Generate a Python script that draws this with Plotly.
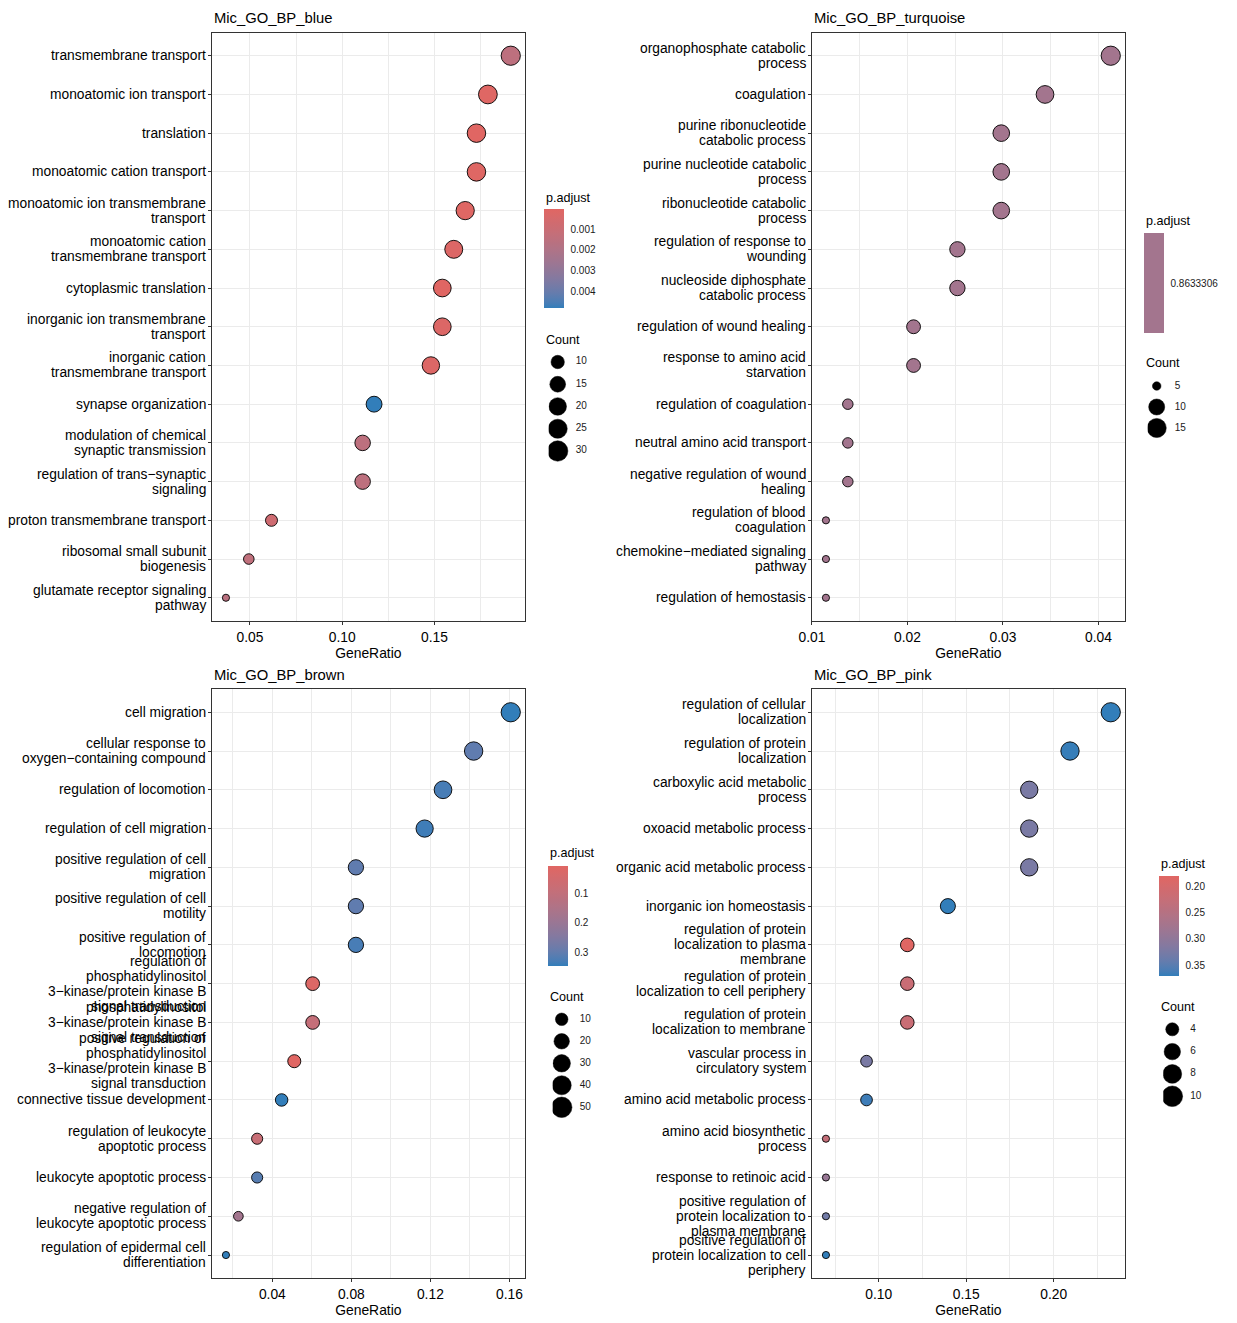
import numpy as np
import plotly.graph_objects as go

W, H = 1237, 1323
FONT = "Liberation Sans"
LOW, HIGH = "#e06663", "#327eba"   # p.adjust low (red) -> high (blue)

# ---------------- Mic_GO_BP_blue ----------------
blue_terms = [
    "transmembrane transport",
    "monoatomic ion transport",
    "translation",
    "monoatomic cation transport",
    "monoatomic ion transmembrane<br>transport",
    "monoatomic cation<br>transmembrane transport",
    "cytoplasmic translation",
    "inorganic ion transmembrane<br>transport",
    "inorganic cation<br>transmembrane transport",
    "synapse organization",
    "modulation of chemical<br>synaptic transmission",
    "regulation of trans\u2212synaptic<br>signaling",
    "proton transmembrane transport",
    "ribosomal small subunit<br>biogenesis",
    "glutamate receptor signaling<br>pathway",
]
blue_ratio = [0.1914, 0.1790, 0.1728, 0.1728, 0.1667, 0.1605, 0.1543, 0.1543,
              0.1481, 0.1173, 0.1111, 0.1111, 0.0617, 0.0494, 0.0370]
blue_count = [31, 29, 28, 28, 27, 26, 25, 25, 24, 19, 18, 18, 10, 8, 6]
blue_padj = [0.0015, 0.0001, 0.00005, 0.0001, 0.0001, 0.0002, 0.00003, 0.0002,
             0.0002, 0.0048, 0.0015, 0.0015, 0.0008, 0.0014, 0.0016]
blue_pticks = [0.001, 0.002, 0.003, 0.004]
blue_ptext = ["0.001", "0.002", "0.003", "0.004"]
blue_breaks = [10, 15, 20, 25, 30]

# ---------------- Mic_GO_BP_turquoise ----------------
turq_terms = [
    "organophosphate catabolic<br>process",
    "coagulation",
    "purine ribonucleotide<br>catabolic process",
    "purine nucleotide catabolic<br>process",
    "ribonucleotide catabolic<br>process",
    "regulation of response to<br>wounding",
    "nucleoside diphosphate<br>catabolic process",
    "regulation of wound healing",
    "response to amino acid<br>starvation",
    "regulation of coagulation",
    "neutral amino acid transport",
    "negative regulation of wound<br>healing",
    "regulation of blood<br>coagulation",
    "chemokine\u2212mediated signaling<br>pathway",
    "regulation of hemostasis",
]
turq_ratio = [0.04128, 0.03440, 0.02982, 0.02982, 0.02982, 0.02523, 0.02523, 0.02064,
              0.02064, 0.01376, 0.01376, 0.01376, 0.01147, 0.01147, 0.01147]
turq_count = [18, 15, 13, 13, 13, 11, 11, 9, 9, 6, 6, 6, 5, 5, 5]
turq_padj = [0.8633306] * 15
turq_pticks = [0.8633306]
turq_ptext = ["0.8633306"]
turq_breaks = [5, 10, 15]

# ---------------- Mic_GO_BP_brown ----------------
brown_terms = [
    "cell migration",
    "cellular response to<br>oxygen\u2212containing compound",
    "regulation of locomotion",
    "regulation of cell migration",
    "positive regulation of cell<br>migration",
    "positive regulation of cell<br>motility",
    "positive regulation of<br>locomotion",
    "regulation of<br>phosphatidylinositol<br>3\u2212kinase/protein kinase B<br>signal transduction",
    "phosphatidylinositol<br>3\u2212kinase/protein kinase B<br>signal transduction",
    "positive regulation of<br>phosphatidylinositol<br>3\u2212kinase/protein kinase B<br>signal transduction",
    "connective tissue development",
    "regulation of leukocyte<br>apoptotic process",
    "leukocyte apoptotic process",
    "negative regulation of<br>leukocyte apoptotic process",
    "regulation of epidermal cell<br>differentiation",
]
brown_ratio = [0.1607, 0.1419, 0.1264, 0.1171, 0.0823, 0.0823, 0.0823, 0.0604,
               0.0604, 0.0511, 0.0447, 0.0323, 0.0323, 0.0228, 0.0165]
brown_count = [51, 45, 40, 37, 26, 26, 26, 19, 19, 16, 14, 10, 10, 7, 5]
brown_padj = [0.344, 0.300, 0.327, 0.334, 0.300, 0.300, 0.327, 0.020, 0.090,
              0.007, 0.344, 0.080, 0.310, 0.175, 0.344]
brown_pticks = [0.1, 0.2, 0.3]
brown_ptext = ["0.1", "0.2", "0.3"]
brown_breaks = [10, 20, 30, 40, 50]

# ---------------- Mic_GO_BP_pink ----------------
pink_terms = [
    "regulation of cellular<br>localization",
    "regulation of protein<br>localization",
    "carboxylic acid metabolic<br>process",
    "oxoacid metabolic process",
    "organic acid metabolic process",
    "inorganic ion homeostasis",
    "regulation of protein<br>localization to plasma<br>membrane",
    "regulation of protein<br>localization to cell periphery",
    "regulation of protein<br>localization to membrane",
    "vascular process in<br>circulatory system",
    "amino acid metabolic process",
    "amino acid biosynthetic<br>process",
    "response to retinoic acid",
    "positive regulation of<br>protein localization to<br>plasma membrane",
    "positive regulation of<br>protein localization to cell<br>periphery",
]
pink_ratio = [0.2326, 0.2093, 0.1860, 0.1860, 0.1860, 0.1395, 0.1163, 0.1163,
              0.1163, 0.0930, 0.0930, 0.0698, 0.0698, 0.0698, 0.0698]
pink_count = [10, 9, 8, 8, 8, 6, 5, 5, 5, 4, 4, 3, 3, 3, 3]
pink_padj = [0.370, 0.368, 0.323, 0.323, 0.323, 0.370, 0.181, 0.220, 0.220,
             0.323, 0.365, 0.228, 0.290, 0.330, 0.370]
pink_pticks = [0.20, 0.25, 0.30, 0.35]
pink_ptext = ["0.20", "0.25", "0.30", "0.35"]
pink_breaks = [4, 6, 8, 10]


# ---- colour gradient in Lab space (like ggplot's scale_colour_gradient) ----
def _lin(c):
    c = c / 255.0
    return c / 12.92 if c <= 0.04045 else ((c + 0.055) / 1.055) ** 2.4


def _gam(c):
    c = 12.92 * c if c <= 0.0031308 else 1.055 * max(c, 0) ** (1 / 2.4) - 0.055
    return int(min(255, max(0, round(c * 255))))


def to_lab(h):
    r, g, b = [_lin(int(h[i:i + 2], 16)) for i in (1, 3, 5)]
    x = (0.4124 * r + 0.3576 * g + 0.1805 * b) / 0.95047
    y = 0.2126 * r + 0.7152 * g + 0.0722 * b
    z = (0.0193 * r + 0.1192 * g + 0.9505 * b) / 1.08883
    f = lambda t: t ** (1 / 3) if t > 0.008856 else 7.787 * t + 16 / 116
    fx, fy, fz = f(x), f(y), f(z)
    return np.array([116 * fy - 16, 500 * (fx - fy), 200 * (fy - fz)])


def from_lab(lab):
    L, a, b = lab
    fy = (L + 16) / 116
    fx, fz = fy + a / 500, fy - b / 200
    finv = lambda t: t ** 3 if t ** 3 > 0.008856 else (t - 16 / 116) / 7.787
    x, y, z = finv(fx) * 0.95047, finv(fy), finv(fz) * 1.08883
    r = 3.2406 * x - 1.5372 * y - 0.4986 * z
    g = -0.9689 * x + 1.8758 * y + 0.0415 * z
    bb = 0.0557 * x - 0.2040 * y + 1.0570 * z
    return "rgb(%d,%d,%d)" % (_gam(r), _gam(g), _gam(bb))


lab_lo, lab_hi = to_lab(LOW), to_lab(HIGH)
# colour axis uses -p.adjust so that the small values (red) sit on top of the bar
grad = [[u, from_lab(lab_hi + (lab_lo - lab_hi) * u)] for u in np.linspace(0, 1, 21)]
mid_col = from_lab((lab_lo + lab_hi) / 2)
flat = [[0, mid_col], [1, mid_col]]


def dot_px(c, lo, hi):
    # ggplot scale_size(range = c(3, 8)) -> pixel diameter
    s = 3 + 5 * np.sqrt((np.asarray(c, float) - lo) / (hi - lo))
    return 0.85 * (s * 2.845 + 0.94)


px_x = lambda v: v / W
px_y = lambda v: 1 - v / H

# layout boxes in pixels: plot area, colourbar, legend titles, size keys
panels = [
    dict(name="Mic_GO_BP_blue", terms=blue_terms, ratio=blue_ratio, count=blue_count,
         padj=blue_padj, pticks=blue_pticks, ptext=blue_ptext, breaks=blue_breaks,
         dtick=0.05, box=(211.7, 525, 32.5, 621), cb=(544, 209, 99), ptitle=198,
         ctitle=340, key=(557.7, 362, 451), top=18),
    dict(name="Mic_GO_BP_turquoise", terms=turq_terms, ratio=turq_ratio, count=turq_count,
         padj=turq_padj, pticks=turq_pticks, ptext=turq_ptext, breaks=turq_breaks,
         dtick=0.01, box=(811.7, 1125, 32.5, 621), cb=(1144, 233, 100), ptitle=221,
         ctitle=363, key=(1156.7, 386, 428), top=18),
    dict(name="Mic_GO_BP_brown", terms=brown_terms, ratio=brown_ratio, count=brown_count,
         padj=brown_padj, pticks=brown_pticks, ptext=brown_ptext, breaks=brown_breaks,
         dtick=0.04, box=(211.7, 525, 689, 1278.3), cb=(547.7, 865.7, 100), ptitle=853,
         ctitle=997, key=(561.7, 1019.3, 1107.3), top=675),
    dict(name="Mic_GO_BP_pink", terms=pink_terms, ratio=pink_ratio, count=pink_count,
         padj=pink_padj, pticks=pink_pticks, ptext=pink_ptext, breaks=pink_breaks,
         dtick=0.05, box=(811.7, 1125, 689, 1278.3), cb=(1159, 876, 100), ptitle=864,
         ctitle=1007, key=(1172.3, 1029.3, 1096.3), top=675),
]

fig = go.Figure()
annotations = []
layout = {}
GRID = "#EBEBEB"
EDGE = "#333333"
LINE_H = 15  # px between wrapped label lines (ggplot lineheight)
TXT = 13.8

for i, p in enumerate(panels):
    k = i + 1
    sfx = "" if k == 1 else str(k)
    ca = "coloraxis" + sfx
    cmin, cmax = min(p["count"]), max(p["count"])
    sizes = dot_px(p["count"], cmin, cmax) - 0.9

    fig.add_trace(go.Scatter(
        x=p["ratio"], y=p["terms"], mode="markers",
        xaxis="x" + sfx, yaxis="y" + sfx, showlegend=False,
        marker=dict(size=sizes, color=[-v for v in p["padj"]], coloraxis=ca,
                    line=dict(color="black", width=0.9), opacity=1),
        hovertemplate="%{y}<br>GeneRatio=%{x}<extra></extra>",
    ))

    x0, x1, y0, y1 = p["box"]
    lo, hi = min(p["ratio"]), max(p["ratio"])
    pad = 0.05 * (hi - lo)
    n = len(p["terms"])
    layout["xaxis" + sfx] = dict(
        domain=[px_x(x0), px_x(x1)], anchor="y" + sfx, range=[lo - pad, hi + pad],
        tick0=0, dtick=p["dtick"], tickformat=".2f", automargin=False,
        showgrid=True, gridcolor=GRID, gridwidth=1.1,
        minor=dict(dtick=p["dtick"] / 2, showgrid=True, gridcolor=GRID, gridwidth=0.6),
        showline=True, mirror=True, linecolor=EDGE, linewidth=1.1,
        ticks="outside", ticklen=3, tickcolor=EDGE, tickwidth=1,
        tickfont=dict(size=TXT, color="black", family=FONT), zeroline=False,
        title=dict(text="GeneRatio", standoff=3, font=dict(size=13.9, color="black", family=FONT)),
    )
    layout["yaxis" + sfx] = dict(
        domain=[px_y(y1), px_y(y0)], anchor="x" + sfx, type="category", automargin=False,
        categoryorder="array", categoryarray=p["terms"], range=[n - 1 + 0.6, -0.6],
        showgrid=True, gridcolor=GRID, gridwidth=1.1, showticklabels=False,
        showline=True, mirror=True, linecolor=EDGE, linewidth=1.1,
        ticks="outside", ticklen=3, tickcolor=EDGE, tickwidth=1, zeroline=False,
    )

    # wrapped category labels, one text per line so the line spacing matches ggplot
    for j, term in enumerate(p["terms"]):
        lines = term.split("<br>")
        m = len(lines)
        for q, line in enumerate(lines):
            annotations.append(dict(
                text=line, x=0, y=j, xref="x" + sfx + " domain" if sfx else "x domain",
                yref="y" + sfx, xanchor="right", yanchor="middle", xshift=-5,
                yshift=-(q - (m - 1) / 2) * LINE_H, showarrow=False, borderpad=0,
                font=dict(size=TXT, color="black", family=FONT)))

    cbx, cby, cblen = p["cb"]
    pmin, pmax = min(p["padj"]), max(p["padj"])
    if pmin == pmax:
        scale, lo_c, hi_c = flat, -(pmax + 0.01), -(pmin - 0.01)
    else:
        scale, lo_c, hi_c = grad, -pmax, -pmin
    layout[ca] = dict(
        colorscale=scale, cmin=lo_c, cmax=hi_c,
        colorbar=dict(
            x=px_x(cbx), xanchor="left", y=px_y(cby), yanchor="top",
            len=cblen, lenmode="pixels", thickness=20, thicknessmode="pixels",
            xpad=0, ypad=0, outlinewidth=0, borderwidth=0,
            ticks="outside", ticklen=5, tickcolor="white", tickwidth=1,
            tickvals=[-v for v in p["pticks"]], ticktext=p["ptext"],
            tickfont=dict(size=10, color="#1a1a1a", family=FONT), title=dict(text=""),
        ),
    )

    # size legend drawn on its own hidden axes
    kx, ky0, ky1 = p["key"]
    br = p["breaks"]
    step = br[1] - br[0]
    spacing = (ky1 - ky0) / (len(br) - 1)
    ksfx = str(k + 4)
    layout["xaxis" + ksfx] = dict(domain=[px_x(kx - 9), px_x(kx + 45)], range=[-0.5, 2.5],
                                  anchor="y" + ksfx, visible=False, fixedrange=True,
                                  automargin=False)
    layout["yaxis" + ksfx] = dict(domain=[px_y(ky1 + spacing / 2), px_y(ky0 - spacing / 2)],
                                  range=[br[-1] + step / 2, br[0] - step / 2],
                                  anchor="x" + ksfx, visible=False, fixedrange=True,
                                  automargin=False)
    fig.add_trace(go.Scatter(
        x=[0] * len(br), y=br, mode="markers", xaxis="x" + ksfx, yaxis="y" + ksfx,
        showlegend=False, hoverinfo="skip", opacity=1,
        marker=dict(size=dot_px(br, cmin, cmax) + 0.5, color="#000000", opacity=1,
                    line=dict(color="#000000", width=0.5)),
    ))
    fig.add_trace(go.Scatter(
        x=[1] * len(br), y=br, mode="text", text=[str(b) for b in br],
        textposition="middle right", xaxis="x" + ksfx, yaxis="y" + ksfx,
        showlegend=False, hoverinfo="skip",
        textfont=dict(size=10, color="#1a1a1a", family=FONT),
    ))

    annotations.append(dict(text=p["name"], x=px_x(x0), y=px_y(p["top"]), xref="paper",
                            yref="paper", xanchor="left", yanchor="middle", showarrow=False,
                            font=dict(size=14.8, color="black", family=FONT)))
    annotations.append(dict(text="p.adjust", x=px_x(cbx), y=px_y(p["ptitle"]), xref="paper",
                            yref="paper", xanchor="left", yanchor="middle", showarrow=False,
                            font=dict(size=12.6, color="black", family=FONT)))
    annotations.append(dict(text="Count", x=px_x(cbx), y=px_y(p["ctitle"]), xref="paper",
                            yref="paper", xanchor="left", yanchor="middle", showarrow=False,
                            font=dict(size=12.6, color="black", family=FONT)))

fig.update_layout(
    width=W, height=H, margin=dict(l=0, r=0, t=0, b=0, autoexpand=False),
    paper_bgcolor="white", plot_bgcolor="white",
    font=dict(family=FONT, color="black"), annotations=annotations,
    **layout,
)

fig.write_html("out.html", config={"displayModeBar": False},
               post_script="document.body.style.margin = '0px';")
